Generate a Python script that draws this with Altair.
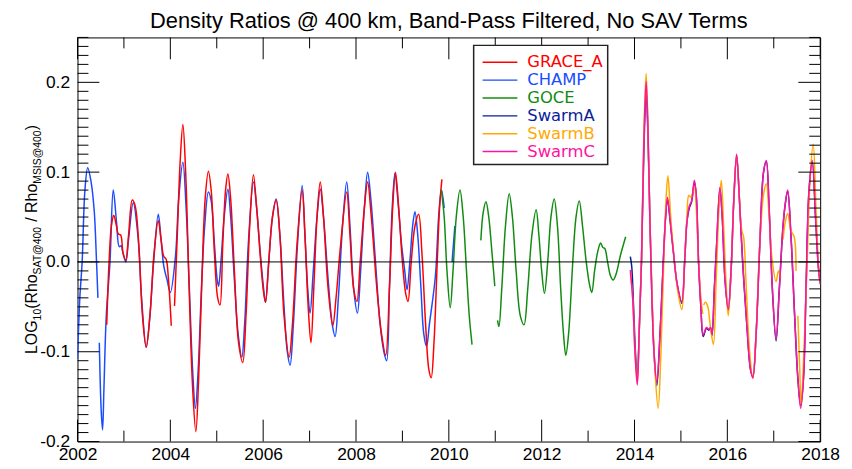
import altair as alt
import pandas as pd
import numpy as np

# ------------------------------------------------------------------ data
TITLE = "Density Ratios @ 400 km, Band-Pass Filtered, No SAV Terms"
NAMES = ["GRACE_A", "CHAMP", "GOCE", "SwarmA", "SwarmB", "SwarmC"]
COLORS = ["#ff0000", "#1a4cff", "#118c11", "#0b1d9c", "#ffaa00", "#ff14a0"]
X_LABELS = list(range(2002, 2019, 2))
Y_LABELS = [-0.2, -0.1, 0.0, 0.1, 0.2]

# None marks a gap in the record
GRACE_T = [2002.63, 2002.68, 2002.73, 2002.78, 2002.84, 2002.88, 2002.93, 2002.98, 2003.04, 2003.10,
           2003.18, 2003.24, 2003.32, 2003.40, 2003.48, 2003.56, 2003.65, 2003.74, 2003.80, 2003.86,
           2003.91, 2003.96, 2004.02, None, 2004.09, 2004.15, 2004.21, 2004.27, 2004.33, 2004.40,
           2004.48, 2004.55, 2004.61, 2004.68, 2004.75, 2004.82, 2004.88, 2004.95, 2005.02, 2005.07,
           2005.13, 2005.19, 2005.24, 2005.30, 2005.38, 2005.47, 2005.56, 2005.63, 2005.71, 2005.79,
           2005.86, 2005.94, 2006.00, 2006.05, 2006.12, 2006.20, 2006.28, 2006.36, 2006.45, 2006.56,
           2006.63, 2006.73, 2006.84, 2006.90, 2006.97, 2007.03, 2007.09, 2007.16, 2007.23, 2007.30,
           2007.40, 2007.50, 2007.57, 2007.67, 2007.80, 2007.87, 2007.95, 2008.02, 2008.09, 2008.18,
           2008.25, 2008.33, 2008.45, 2008.55, 2008.64, 2008.72, 2008.79, 2008.85, 2008.92, 2009.00,
           2009.07, 2009.12, 2009.19, 2009.27, 2009.35, 2009.42, 2009.50, 2009.57, 2009.62, 2009.68,
           2009.75, 2009.80, 2009.85]
GRACE_V = [-0.070, 0.000, 0.040, 0.052, 0.040, 0.031, 0.030, 0.010, 0.002, 0.030,
           0.069, 0.063, 0.020, -0.060, -0.095, -0.060, 0.010, 0.046, 0.025, 0.006,
           0.003, -0.020, -0.071, None, -0.049, 0.030, 0.110, 0.153, 0.100, -0.020,
           -0.140, -0.189, -0.130, -0.020, 0.070, 0.101, 0.080, 0.010, -0.040, -0.048,
           0.020, 0.080, 0.098, 0.070, -0.010, -0.090, -0.112, -0.060, 0.040, 0.097,
           0.060, 0.005, -0.030, -0.045, 0.000, 0.050, 0.069, 0.030, -0.060, -0.106,
           -0.070, 0.020, 0.080, 0.030, -0.050, -0.090, -0.030, 0.050, 0.089, 0.050,
           -0.030, -0.071, -0.040, 0.020, 0.078, 0.030, -0.030, -0.044, 0.000, 0.060,
           0.089, 0.050, -0.030, -0.080, -0.104, -0.030, 0.060, 0.100, 0.060, 0.000,
           -0.035, -0.044, 0.000, 0.040, 0.053, 0.010, -0.070, -0.120, -0.129, -0.090,
           0.000, 0.060, 0.092]

CHAMP_T = [2002.00, 2002.05, 2002.10, 2002.16, 2002.22, 2002.29, 2002.36, 2002.41, 2002.44, None,
           2002.47, 2002.51, 2002.54, 2002.57, 2002.62, 2002.70, 2002.77, 2002.84, 2002.90, 2002.94,
           2002.98, 2003.04, 2003.10, 2003.20, 2003.30, 2003.38, 2003.48, 2003.56, 2003.64, 2003.74,
           2003.80, 2003.86, 2003.93, 2004.00, 2004.11, 2004.18, 2004.27, 2004.34, 2004.41, 2004.48,
           2004.54, 2004.60, 2004.67, 2004.74, 2004.82, 2004.88, 2004.95, 2005.01, 2005.04, 2005.09,
           2005.16, 2005.24, 2005.30, 2005.38, 2005.46, 2005.54, 2005.60, 2005.68, 2005.79, 2005.86,
           2005.93, 2006.00, 2006.05, 2006.12, 2006.20, 2006.28, 2006.36, 2006.45, 2006.52, 2006.58,
           2006.65, 2006.74, 2006.84, 2006.90, 2006.96, 2007.01, 2007.08, 2007.16, 2007.23, 2007.30,
           2007.40, 2007.49, 2007.55, 2007.62, 2007.71, 2007.80, 2007.87, 2007.95, 2008.03, 2008.10,
           2008.18, 2008.25, 2008.32, 2008.42, 2008.52, 2008.60, 2008.66, 2008.72, 2008.78, 2008.84,
           2008.90, 2008.98, 2009.05, 2009.10, 2009.16, 2009.22, 2009.27, 2009.33, 2009.40, 2009.46,
           2009.52, 2009.58, 2009.71, 2009.78, 2009.84, 2009.90, None, 2010.07, 2010.13]
CHAMP_V = [-0.108, -0.040, 0.000, 0.080, 0.105, 0.090, 0.057, 0.000, -0.040, None,
           -0.090, -0.165, -0.187, -0.140, -0.060, 0.000, 0.080, 0.045, 0.017, 0.018,
           0.010, 0.000, 0.025, 0.066, 0.030, -0.040, -0.095, -0.060, 0.000, 0.053,
           0.025, -0.005, -0.020, -0.034, 0.006, 0.070, 0.111, 0.060, -0.030, -0.120,
           -0.163, -0.120, -0.030, 0.040, 0.078, 0.068, 0.020, -0.020, -0.027, 0.000,
           0.050, 0.081, 0.050, -0.020, -0.080, -0.106, -0.070, 0.020, 0.089, 0.060,
           0.015, -0.025, -0.045, 0.000, 0.050, 0.070, 0.030, -0.050, -0.100, -0.115,
           -0.070, 0.020, 0.085, 0.030, -0.030, -0.057, -0.010, 0.050, 0.081, 0.050,
           -0.020, -0.070, -0.083, -0.040, 0.040, 0.089, 0.040, -0.030, -0.057, -0.010,
           0.060, 0.100, 0.070, 0.000, -0.070, -0.100, -0.110, -0.030, 0.060, 0.099,
           0.070, 0.020, -0.010, -0.031, 0.000, 0.040, 0.056, 0.030, -0.030, -0.080,
           -0.094, -0.070, -0.016, 0.050, 0.080, 0.060, None, 0.000, 0.040]

GOCE_T = [2009.84, 2009.90, 2009.96, 2010.03, 2010.09, 2010.16, 2010.24, 2010.31, 2010.38, 2010.44,
          2010.50, None, 2010.69, 2010.74, 2010.80, 2010.86, 2010.93, 2010.99, None, 2011.05,
          2011.08, 2011.14, 2011.22, 2011.30, 2011.37, 2011.45, 2011.54, 2011.62, 2011.70, 2011.79,
          2011.88, 2011.94, 2012.00, 2012.06, 2012.13, 2012.20, 2012.27, 2012.34, 2012.41, 2012.47,
          2012.52, 2012.58, 2012.67, 2012.74, 2012.81, 2012.88, 2012.96, 2013.03, 2013.08, 2013.14,
          2013.21, 2013.27, 2013.32, 2013.36, 2013.42, 2013.48, 2013.54, 2013.60, 2013.70, 2013.81]
GOCE_V = [0.080, 0.050, -0.010, -0.051, -0.010, 0.050, 0.080, 0.050, -0.010, -0.060,
          -0.092, None, 0.024, 0.055, 0.067, 0.050, 0.010, -0.027, None, -0.065,
          -0.072, -0.030, 0.040, 0.076, 0.050, -0.010, -0.060, -0.070, -0.030, 0.030,
          0.058, 0.030, -0.010, -0.035, 0.000, 0.050, 0.070, 0.040, -0.030, -0.080,
          -0.104, -0.080, 0.000, 0.050, 0.068, 0.040, 0.000, -0.025, -0.034, -0.010,
          0.012, 0.021, 0.016, 0.015, 0.000, -0.015, -0.020, -0.014, 0.008, 0.028]

SWA_T = [2013.91, 2013.94, 2013.98, 2014.02, 2014.06, 2014.10, 2014.15, 2014.20, 2014.25, 2014.29,
         2014.33, 2014.37, 2014.42, 2014.48, 2014.55, 2014.62, 2014.67, 2014.71, 2014.77, 2014.84,
         2014.92, 2015.02, 2015.08, 2015.13, 2015.18, 2015.23, 2015.29, 2015.33, 2015.38, 2015.43,
         2015.48, 2015.55, 2015.60, 2015.64, 2015.67, 2015.72, 2015.77, 2015.84, 2015.89, 2015.95,
         2016.02, 2016.08, 2016.14, 2016.20, 2016.26, 2016.33, 2016.42, 2016.50, 2016.55, 2016.62,
         2016.70, 2016.78, 2016.84, 2016.90, 2016.97, 2017.05, 2017.12, 2017.20, 2017.25, 2017.30,
         2017.37, 2017.45, 2017.52, 2017.58, 2017.64, 2017.70, 2017.76, 2017.83, 2017.90, 2017.96,
         2018.00]
SWA_V = [0.006, -0.005, -0.050, -0.100, -0.130, -0.080, 0.000, 0.120, 0.188, 0.140,
         0.050, -0.030, -0.100, -0.138, -0.080, 0.000, 0.050, 0.070, 0.045, 0.010,
         -0.025, -0.046, 0.000, 0.045, 0.060, 0.067, 0.089, 0.074, 0.000, -0.050,
         -0.083, -0.074, -0.076, -0.074, -0.082, -0.030, 0.020, 0.082, 0.050, -0.020,
         -0.054, -0.010, 0.070, 0.118, 0.070, 0.000, -0.070, -0.120, -0.128, -0.080,
         0.020, 0.100, 0.112, 0.060, -0.030, -0.088, -0.030, 0.040, 0.065, 0.079,
         0.030, -0.060, -0.130, -0.160, -0.130, -0.020, 0.080, 0.111, 0.050, -0.005,
         -0.024]

SWB_T = [2013.91, 2013.96, 2014.01, 2014.06, 2014.10, 2014.15, 2014.20, 2014.25, 2014.29, 2014.33,
         2014.38, 2014.44, 2014.51, 2014.57, 2014.63, 2014.68, 2014.72, 2014.78, 2014.86, 2014.94,
         2015.02, 2015.08, 2015.13, 2015.17, 2015.22, 2015.29, 2015.33, 2015.38, 2015.43, 2015.47,
         None, 2015.49, 2015.53, 2015.58, 2015.63, 2015.70, 2015.76, 2015.82, 2015.87, 2015.92,
         2015.97, 2016.02, 2016.08, 2016.14, 2016.20, 2016.26, 2016.31, 2016.35, 2016.40, 2016.48,
         2016.55, 2016.62, 2016.70, 2016.78, 2016.84, 2016.90, 2016.97, 2017.05, 2017.10, 2017.15,
         None, 2017.20, 2017.25, 2017.30, 2017.37, 2017.44, 2017.48, None, 2017.52, 2017.56,
         2017.59, 2017.65, 2017.72, 2017.78, 2017.85, 2017.91, 2017.96, 2018.00]
SWB_V = [-0.012, -0.040, -0.100, -0.135, -0.080, 0.000, 0.140, 0.210, 0.150, 0.050,
         -0.040, -0.120, -0.163, -0.100, 0.000, 0.070, 0.096, 0.050, 0.000, -0.035,
         -0.053, 0.000, 0.050, 0.074, 0.072, 0.084, 0.060, 0.000, -0.040, -0.058,
         None, -0.048, -0.045, -0.050, -0.070, -0.092, -0.020, 0.060, 0.091, 0.040,
         -0.020, -0.060, -0.010, 0.070, 0.120, 0.070, 0.035, 0.028, -0.020, -0.100,
         -0.130, -0.080, 0.020, 0.075, 0.087, 0.050, 0.000, -0.022, -0.010, -0.018,
         None, 0.025, 0.045, 0.054, 0.035, 0.028, -0.010, None, -0.060, -0.120,
         -0.160, -0.100, 0.000, 0.090, 0.131, 0.060, 0.000, -0.025]

SWC_T = [2013.91, 2013.96, 2014.01, 2014.06, 2014.10, 2014.15, 2014.20, 2014.25, 2014.29, 2014.33,
         2014.37, 2014.42, 2014.48, 2014.55, 2014.62, 2014.67, 2014.71, 2014.77, 2014.84, 2014.92,
         2015.02, 2015.08, 2015.13, 2015.18, 2015.23, 2015.29, 2015.33, 2015.38, 2015.43, 2015.48,
         2015.55, 2015.60, 2015.64, 2015.67, 2015.72, 2015.77, 2015.84, 2015.89, 2015.95, 2016.02,
         2016.08, 2016.14, 2016.20, 2016.26, 2016.33, 2016.42, 2016.50, 2016.55, 2016.62, 2016.70,
         2016.78, 2016.84, 2016.90, 2016.97, 2017.05, 2017.12, 2017.20, 2017.25, 2017.30, 2017.37,
         2017.45, 2017.52, 2017.58, 2017.64, 2017.70, 2017.76, 2017.83, 2017.90, 2017.96, 2018.00]
SWC_V = [-0.009, -0.040, -0.100, -0.137, -0.080, 0.000, 0.130, 0.201, 0.150, 0.050,
         -0.030, -0.100, -0.134, -0.080, 0.000, 0.050, 0.072, 0.045, 0.010, -0.025,
         -0.044, 0.000, 0.045, 0.062, 0.068, 0.091, 0.075, 0.000, -0.050, -0.081,
         -0.073, -0.075, -0.073, -0.081, -0.030, 0.020, 0.083, 0.050, -0.020, -0.053,
         -0.010, 0.070, 0.120, 0.070, 0.000, -0.070, -0.120, -0.129, -0.080, 0.020,
         0.100, 0.113, 0.060, -0.030, -0.086, -0.030, 0.040, 0.066, 0.080, 0.030,
         -0.060, -0.130, -0.163, -0.130, -0.020, 0.080, 0.113, 0.050, -0.005, -0.024]

SERIES = {
    "GRACE_A": (GRACE_T, GRACE_V),
    "CHAMP": (CHAMP_T, CHAMP_V),
    "GOCE": (GOCE_T, GOCE_V),
    "SwarmA": (SWA_T, SWA_V),
    "SwarmB": (SWB_T, SWB_V),
    "SwarmC": (SWC_T, SWC_V),
}
DRAW_ORDER = ["CHAMP", "GRACE_A", "GOCE", "SwarmA", "SwarmB", "SwarmC"]

# ------------------------------------------------------------------ layout
W, H = 748, 407
FONT = "Liberation Sans"
ONE = pd.DataFrame({"a": [0]})


def long_frame(name):
    t, v = SERIES[name]
    rows, seg = [], 0
    for ti, vi in zip(t, v):
        if ti is None or vi is None:
            seg += 1
            continue
        rows.append({"series": name, "year": ti, "value": vi, "seg": seg})
    return pd.DataFrame(rows)


xs = alt.Scale(domain=[2002, 2018], nice=False, zero=False)
ys = alt.Scale(domain=[-0.2, 0.25], nice=False, zero=False)
cs = alt.Scale(domain=NAMES, range=COLORS)

x_axis = alt.Axis(values=X_LABELS, format="d", ticks=False, tickSize=0, domain=False, grid=False,
                  labelFont=FONT, labelFontSize=17.5, labelColor="black", labelPadding=4,
                  labelFlush=False, labelOverlap=False, title=None)
y_axis = alt.Axis(values=Y_LABELS, ticks=False, tickSize=0, domain=False, grid=False,
                  labelExpr="datum.value < 0 ? '-' + format(-datum.value, '.1f') : format(datum.value, '.1f')",
                  labelFont=FONT, labelFontSize=17.5, labelColor="black", labelPadding=8,
                  labelOverlap=False, title=None)


def X(field="year"):
    return alt.X(f"{field}:Q", scale=xs, axis=x_axis)


def Y(field="value"):
    return alt.Y(f"{field}:Q", scale=ys, axis=y_axis)


layers = []

# series lines
for name in DRAW_ORDER:
    df = long_frame(name)
    layers.append(
        alt.Chart(df).mark_line(strokeWidth=1.5, interpolate="catmull-rom", clip=True).encode(
            x=X(), y=Y(),
            color=alt.Color("series:N", scale=cs, legend=None),
            detail="seg:N",
            order="year:Q",
        )
    )

# zero line
layers.append(alt.Chart(pd.DataFrame({"value": [0.0]})).mark_rule(color="black", strokeWidth=1).encode(y=Y()))

# inward ticks on all four sides
x_major = [y for y in range(2002, 2019) if y % 2 == 0]
x_minor = [y for y in range(2002, 2019) if y % 2 == 1]
y_all = [round(v, 2) for v in np.arange(-0.20, 0.2501, 0.01)]
y_major = [v for v in y_all if abs(round(v * 10) - v * 10) < 1e-6]
y_minor = [v for v in y_all if v not in y_major]

for vals, L in ((x_major, 22), (x_minor, 11)):
    d = pd.DataFrame({"year": vals})
    layers.append(alt.Chart(d).mark_rule(color="black", strokeWidth=1).encode(
        x=X(), y=alt.value(H), y2=alt.value(H - L)))
    layers.append(alt.Chart(d).mark_rule(color="black", strokeWidth=1).encode(
        x=X(), y=alt.value(0), y2=alt.value(L)))
for vals, L in ((y_major, 22), (y_minor, 11)):
    d = pd.DataFrame({"value": vals})
    layers.append(alt.Chart(d).mark_rule(color="black", strokeWidth=1).encode(
        y=Y(), x=alt.value(0), x2=alt.value(L)))
    layers.append(alt.Chart(d).mark_rule(color="black", strokeWidth=1).encode(
        y=Y(), x=alt.value(W), x2=alt.value(W - L)))

# title
layers.append(alt.Chart(ONE).mark_text(
    font=FONT, fontSize=22, color="black", align="center", baseline="alphabetic").encode(
    text=alt.value(TITLE), x=alt.value(W / 2), y=alt.value(-10)))

# y-axis title with subscripts (rotated)
AW = {'L': 556, 'O': 778, 'G': 778, '(': 333, 'R': 722, 'h': 556, 'o': 556, ' ': 278, '/': 278,
      ')': 333, '0': 556, '1': 556, '4': 556, 'S': 667, 'A': 667, 'T': 611, '@': 1015, 'M': 833,
      'I': 278}
PIECES = [("LOG", False), ("10", True), ("(Rho", False), ("SAT@400", True), (" / Rho", False),
          ("MSIS@400", True), (")", False)]
S_BIG, S_SUB = 16, 10.5
cur, placed = 0.0, []
for txt, sub in PIECES:
    size = S_SUB if sub else S_BIG
    lead, t = 0.0, txt
    while t.startswith(" "):
        lead += AW[" "] * size / 1000
        t = t[1:]
    placed.append((t, cur + lead, sub))
    cur += sum(AW[c] for c in txt) * size / 1000
start = H / 2 + cur / 2
for t, off, sub in placed:
    layers.append(alt.Chart(ONE).mark_text(
        font=FONT, fontSize=S_SUB if sub else S_BIG, color="black", angle=270,
        align="left", baseline="alphabetic").encode(
        text=alt.value(t), x=alt.value(-36.5 if sub else -41), y=alt.value(start - off)))

# legend box
layers.append(alt.Chart(ONE).mark_rect(fill="white", stroke="#222222", strokeWidth=1.5).encode(
    x=alt.value(399), x2=alt.value(534), y=alt.value(8), y2=alt.value(128)))
for i, (name, col) in enumerate(zip(NAMES, COLORS)):
    ly = 25 + 18 * i
    layers.append(alt.Chart(ONE).mark_rule(strokeWidth=1.5, color=col).encode(
        x=alt.value(408), x2=alt.value(443), y=alt.value(ly)))
    layers.append(alt.Chart(ONE).mark_text(
        font="DejaVu Sans", fontSize=16.5, align="left", baseline="middle", color=col).encode(
        text=alt.value(name), x=alt.value(453), y=alt.value(ly)))

chart = alt.layer(*layers).properties(
    width=W, height=H,
    autosize=alt.AutoSizeParams(type="none"),
    padding={"left": 70, "top": 28, "right": 24, "bottom": 24},
    background="white",
).configure_view(stroke="black", strokeWidth=1)

chart.save("out.html", embed_options={"renderer": "svg", "actions": False})
